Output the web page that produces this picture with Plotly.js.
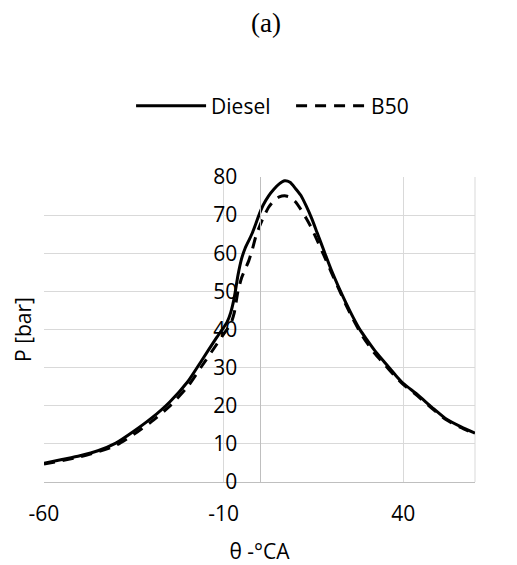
<!DOCTYPE html>
<html>
<head>
<meta charset="utf-8">
<script src="https://cdn.plot.ly/plotly-3.0.1.min.js"></script>
<style>html,body{margin:0;padding:0;background:#fff;}#chart{width:517px;height:565px;}</style>
</head>
<body>
<div id="chart"></div>
<script>
const dieselTheta = [-60,-55,-50,-45,-40,-35,-30,-25,-20,-16,-12,-10,-9,-8,-7,-6,-5,-4,-3,-2,-1,0,1,2.5,4,5.5,7,8.5,10,11.5,13,14.5,16,18,20,22,24,26,28,30,32,35,38,40,44,48,52,56,60];
const dieselP = [4.9,5.9,6.9,8.2,10.2,13.3,16.8,21.0,26.3,32.0,37.8,40.5,42.0,44.5,48.5,54.2,58.5,61.3,63.3,65.3,67.8,70.4,72.6,75.0,76.8,78.2,79.0,78.6,77.0,75.2,72.4,69.2,65.5,60.5,55.6,51.2,47.1,43.3,39.9,37.2,34.6,31.2,27.9,25.9,22.9,19.6,16.5,14.5,12.8];
const b50Theta = [-60,-55,-50,-45,-40,-35,-30,-25,-20,-16,-12,-10,-8,-7,-6,-5,-4,-3,-2,-1,0,1,2.5,4,5.5,7,8.5,10,11.5,13,14.5,16,18,20,22,24,26,28,30,32,35,38,40,44,48,52,56,60];
const b50P = [4.7,5.6,6.6,7.9,9.6,12.5,15.9,19.9,25.0,30.5,36.0,38.8,41.5,44.5,50.0,53.5,55.8,58.0,61.0,64.5,67.0,69.2,72.0,73.8,74.8,75.1,74.7,73.5,71.5,69.2,66.6,63.5,59.3,55.0,50.8,46.6,42.8,39.3,36.4,33.8,30.6,27.5,25.6,22.6,19.3,16.3,14.3,12.6];
const seriesNames = ['Diesel','B50'];
const xTickVals = [-60, -10, 40];
const xTickText = ['-60', '-10', '40'];
const xTitle = 'θ -°CA';
const yTitle = 'P [bar]';
const chartTitle = '(a)';

const font = '"Open Sans", "Noto Sans", sans-serif';
const fs = 21;

const traces = [
  {x: dieselTheta, y: dieselP, name: seriesNames[0], type: 'scatter', mode: 'lines',
   line: {color: '#000', width: 3, shape: 'spline', smoothing: 0.6}},
  {x: b50Theta, y: b50P, name: seriesNames[1], type: 'scatter', mode: 'lines',
   line: {color: '#000', width: 3, dash: '11px,8px', shape: 'spline', smoothing: 0.6}}
];

const layout = {
  width: 517, height: 565,
  margin: {l: 44, r: 42, t: 177, b: 83},
  paper_bgcolor: '#fff', plot_bgcolor: '#fff',
  font: {family: font, color: '#000', size: fs},
  title: {text: chartTitle, x: 0.5145, xref: 'container', xanchor: 'center',
          y: 1 - 23/565, yref: 'container', yanchor: 'middle',
          font: {family: '"Liberation Serif", "Times New Roman", serif', size: 27, color: '#000'}},
  showlegend: true,
  legend: {orientation: 'h', xref: 'container', x: 0.563, xanchor: 'center',
           yref: 'container', y: 1 - 106/565, yanchor: 'middle',
           font: {family: font, size: fs, color: '#000'}, itemwidth: 70,
           entrywidth: 75, entrywidthmode: 'pixels',
           bgcolor: 'rgba(0,0,0,0)'},
  xaxis: {range: [-60, 60], tickmode: 'array', tickvals: xTickVals, ticktext: xTickText,
          showgrid: true, gridcolor: '#d9d9d9', gridwidth: 1,
          showline: true, linecolor: '#bfbfbf', linewidth: 1, zeroline: false, ticks: '',
          ticklabelstandoff: 13, tickfont: {family: font, size: fs, color: '#000'},
          title: {text: xTitle, font: {family: font, size: fs, color: '#000'}, standoff: 21},
          fixedrange: true},
  yaxis: {range: [0, 80], dtick: 10, anchor: 'free', position: 0.5, showgrid: true, gridcolor: '#d9d9d9', gridwidth: 1,
          showline: true, linecolor: '#bfbfbf', linewidth: 1, zeroline: false, ticks: '',
          ticklabelstandoff: 18, tickfont: {family: font, size: fs, color: '#000'}, fixedrange: true},
  shapes: [{type: 'line', xref: 'paper', yref: 'paper', x0: 1, x1: 1, y0: 0, y1: 1,
            line: {color: '#d9d9d9', width: 1}, layer: 'below'}],
  annotations: [{text: yTitle, xref: 'paper', yref: 'paper', x: -0.05, y: 0.5,
                 xanchor: 'center', yanchor: 'middle', textangle: -90, showarrow: false,
                 font: {family: font, size: fs, color: '#000'}}]
};

Plotly.newPlot('chart', traces, layout, {displayModeBar: false, staticPlot: true});
</script>
</body>
</html>
